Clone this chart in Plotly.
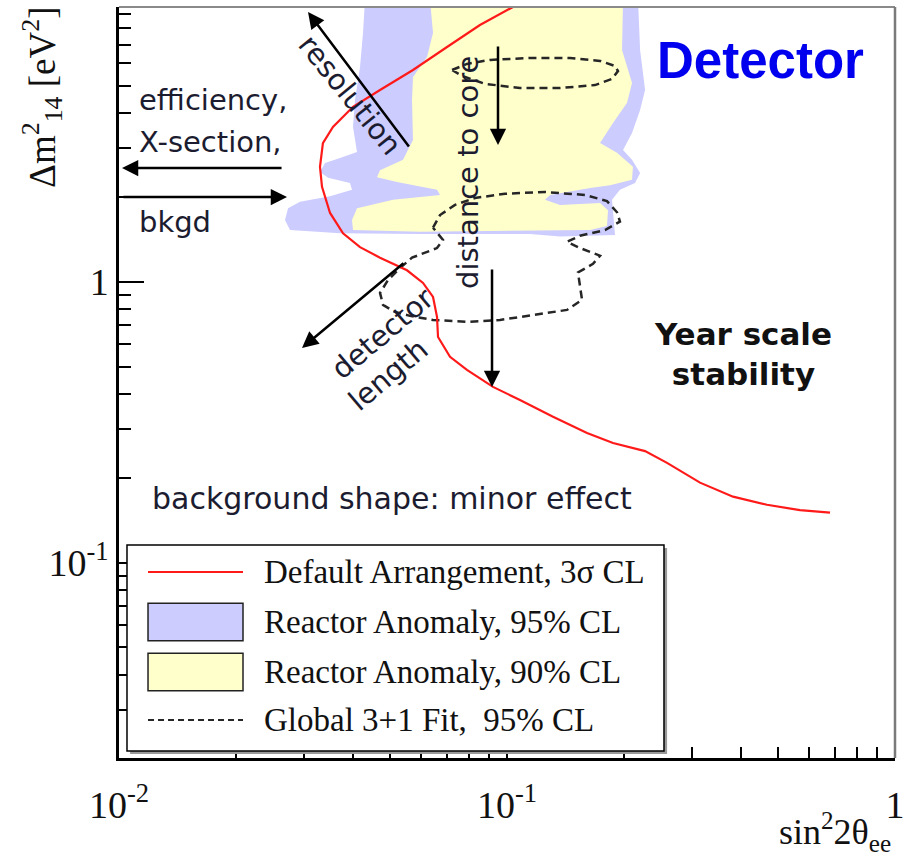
import plotly.graph_objects as go

# ---------------------------------------------------------------
# Sensitivity of the default detector arrangement (3 sigma CL)
# ---------------------------------------------------------------
sens_s2 = [0.1036, 0.08517, 0.07006, 0.05724, 0.04707, 0.04010, 0.03560,
           0.03354, 0.03296, 0.03336, 0.03499, 0.03779, 0.04180, 0.04707,
           0.05524, 0.06075, 0.06447, 0.06601, 0.06641, 0.07131, 0.07884,
           0.09203, 0.1080, 0.1314, 0.1608, 0.1876, 0.2269, 0.2585, 0.3144,
           0.3824, 0.4678, 0.5690, 0.6801]
sens_dm2 = [9.52, 8.21, 6.86, 5.68, 4.82, 4.20, 3.56, 3.12, 2.57, 2.18, 1.76,
            1.49, 1.33, 1.22, 1.10, 0.992, 0.884, 0.751, 0.637, 0.541, 0.486,
            0.423, 0.380, 0.331, 0.290, 0.267, 0.250, 0.227, 0.193, 0.172,
            0.161, 0.154, 0.151]

# Reactor anomaly allowed region, 95% CL
ra95_s2 = [0.04305, 0.04255, 0.04180, 0.04057, 0.04010, 0.04106, 0.03712,
           0.03396, 0.03296, 0.03458, 0.03939, 0.03986, 0.03499, 0.02928,
           0.02727, 0.02678, 0.02759, 0.03712, 0.05968, 0.1147, 0.1370,
           0.1898, 0.1865, 0.1955, 0.2138, 0.2203, 0.2100, 0.1991, 0.2100,
           0.2203, 0.2269, 0.2203, 0.2176]
ra95_dm2 = [10.1, 7.69, 5.82, 4.44, 3.56, 2.90, 2.76, 2.65, 2.46, 2.35, 2.25,
            2.13, 2.02, 1.93, 1.83, 1.66, 1.53, 1.49, 1.48, 1.48, 1.45, 1.47,
            1.96, 2.13, 2.25, 2.44, 2.72, 2.95, 3.39, 4.09, 4.82, 6.69, 10.1]

# Reactor anomaly allowed region, 90% CL
ra90_s2 = [0.06332, 0.06447, 0.06221, 0.05724, 0.05691, 0.05724, 0.05395,
           0.04707, 0.04623, 0.05206, 0.06601, 0.06720, 0.05084, 0.04106,
           0.03986, 0.04010, 0.05968, 0.1147, 0.1637, 0.1810, 0.1821, 0.1737,
           0.1370, 0.1253, 0.1291, 0.1637, 0.1843, 0.2100, 0.2112, 0.1921,
           0.1737, 0.1876, 0.2039, 0.2100, 0.1979, 0.1991]
ra90_dm2 = [10.1, 7.69, 6.32, 5.36, 4.44, 3.20, 2.72, 2.50, 2.36, 2.27, 2.13,
            2.04, 1.96, 1.83, 1.66, 1.53, 1.51, 1.52, 1.53, 1.58, 1.80, 1.91,
            1.88, 1.96, 2.04, 2.16, 2.21, 2.31, 2.57, 2.88, 3.12, 3.68, 4.34,
            5.11, 6.69, 10.1]

# Global 3+1 fit, 95% CL: upper island
g_up_s2 = [0.07216, 0.07884, 0.09041, 0.1147, 0.1454, 0.1737, 0.1898, 0.1932,
           0.1865, 0.1686, 0.1370, 0.1080, 0.08776, 0.07656, 0.07216]
g_up_dm2 = [5.68, 5.97, 6.17, 6.27, 6.27, 6.12, 5.87, 5.63, 5.28, 5.02, 4.90,
            4.90, 5.07, 5.41, 5.68]

# Global 3+1 fit, 95% CL: lower island
g_lo_s2 = [0.06447, 0.06720, 0.07345, 0.08267, 0.09881, 0.1253, 0.1589,
           0.1810, 0.1921, 0.1955, 0.1789, 0.1542, 0.1428, 0.1542, 0.1737,
           0.1666, 0.1524, 0.1542, 0.1561, 0.1428, 0.1167, 0.09594, 0.07884,
           0.06447, 0.05623, 0.05144, 0.04791, 0.04707, 0.04936, 0.05299,
           0.05691, 0.06601, 0.06842, 0.06447]
g_lo_dm2 = [1.56, 1.73, 1.88, 1.99, 2.06, 2.09, 2.04, 1.94, 1.77, 1.64, 1.53,
            1.46, 1.39, 1.32, 1.24, 1.16, 1.08, 0.952, 0.863, 0.795, 0.763,
            0.732, 0.721, 0.732, 0.757, 0.782, 0.828, 0.914, 1.016, 1.12,
            1.22, 1.32, 1.41, 1.56]

legend_labels = ["Default Arrangement, 3\u03c3 CL",
                 "Reactor Anomaly, 95% CL",
                 "Reactor Anomaly, 90% CL",
                 "Global 3+1 Fit,  95% CL"]

x_major = [0.01, 0.1, 1]
x_major_text = ["10<sup>-2</sup>", "10<sup>-1</sup>", "1"]
x_minor = [0.02, 0.03, 0.04, 0.05, 0.06, 0.07, 0.08, 0.09,
           0.2, 0.3, 0.4, 0.5, 0.6, 0.7, 0.8, 0.9]
y_major = [0.1, 1]
y_major_text = ["10<sup>-1</sup>", "1"]
y_minor = [0.03, 0.04, 0.05, 0.06, 0.07, 0.08, 0.09,
           0.2, 0.3, 0.4, 0.5, 0.6, 0.7, 0.8, 0.9,
           2, 3, 4, 5, 6, 7, 8, 9]

RED = "#ff1a1a"
BLUE = "#ccccff"
YELLOW = "#ffffcc"
DASH = "#262626"
SERIF = "Liberation Serif"
SANS = "DejaVu Sans"
INK = "#1c1c30"

fig = go.Figure()
fig.add_trace(go.Scatter(x=ra95_s2, y=ra95_dm2, mode="lines", fill="toself",
                         fillcolor=BLUE, line=dict(width=0, color=BLUE),
                         hoverinfo="skip", showlegend=False))
fig.add_trace(go.Scatter(x=ra90_s2, y=ra90_dm2, mode="lines", fill="toself",
                         fillcolor=YELLOW, line=dict(width=0, color=YELLOW),
                         hoverinfo="skip", showlegend=False))
for xs, ys in ((g_up_s2, g_up_dm2), (g_lo_s2, g_lo_dm2)):
    fig.add_trace(go.Scatter(x=xs, y=ys, mode="lines",
                             line=dict(color=DASH, width=2.5, dash="8px,5px"),
                             hoverinfo="skip", showlegend=False))
fig.add_trace(go.Scatter(x=sens_s2, y=sens_dm2, mode="lines",
                         line=dict(color=RED, width=2.2),
                         hoverinfo="skip", showlegend=False))

# plot frame (top and right sides)
shapes = [
    dict(type="line", xref="paper", yref="paper", x0=0, x1=1, y0=1, y1=1,
         line=dict(color="#8a8a8a", width=2)),
    dict(type="line", xref="paper", yref="paper", x0=1, x1=1, y0=0, y1=1,
         line=dict(color="#7a7a7a", width=2.5)),
]

# hand-drawn legend box
lx0, lx1, ly0, ly1 = 0.0103, 0.7023, 0.0093, 0.2836
shapes += [
    dict(type="rect", xref="paper", yref="paper", layer="above",
         x0=lx0 + 0.004, x1=lx1 + 0.004, y0=ly0 - 0.004, y1=ly1 - 0.004,
         fillcolor="#9a9a9a", line=dict(width=0)),
    dict(type="rect", xref="paper", yref="paper", layer="above",
         x0=lx0, x1=lx1, y0=ly0, y1=ly1,
         fillcolor="white", line=dict(color="black", width=1.5)),
]
row_y = [0.2477, 0.1811, 0.1145, 0.0506]
sx0, sx1, half_h = 0.0374, 0.1598, 0.0250
shapes.append(dict(type="line", xref="paper", yref="paper", layer="above",
                   x0=sx0, x1=sx1, y0=row_y[0], y1=row_y[0],
                   line=dict(color=RED, width=2)))
for fc, yy in ((BLUE, row_y[1]), (YELLOW, row_y[2])):
    shapes.append(dict(type="rect", xref="paper", yref="paper", layer="above",
                       x0=sx0, x1=sx1, y0=yy - half_h, y1=yy + half_h,
                       fillcolor=fc, line=dict(color="#222222", width=1.5)))
shapes.append(dict(type="line", xref="paper", yref="paper", layer="above",
                   x0=sx0, x1=sx1, y0=row_y[3], y1=row_y[3],
                   line=dict(color=DASH, width=1.8, dash="6px,4px")))

annotations = []
for lab, yy in zip(legend_labels, row_y):
    annotations.append(dict(xref="paper", yref="paper", x=0.1843, y=yy,
                            text=lab, showarrow=False, xanchor="left",
                            yanchor="middle",
                            font=dict(family=SERIF, size=33, color="#111111")))

# text notes
def note(x, y, text, size=28, angle=0, color=INK, bold=False, family=SANS,
         xanchor="center"):
    t = "<b>%s</b>" % text if bold else text
    annotations.append(dict(xref="paper", yref="paper", x=x, y=y, text=t,
                            showarrow=False, textangle=angle, xanchor=xanchor,
                            yanchor="middle",
                            font=dict(family=family, size=size, color=color)))

note(0.0232, 0.8762, "efficiency,", size=29, xanchor="left")
note(0.0232, 0.8202, "X-section,", size=29, xanchor="left")
note(0.0232, 0.7137, "bkgd", size=29, xanchor="left")
note(0.2977, 0.8828, "resolution", size=29, angle=51)
note(0.4497, 0.7803, "distance to core", size=29, angle=-90)
note(0.3402, 0.5659, "detector", size=29, angle=-40)
note(0.3466, 0.5100, "length", size=29, angle=-40)
note(0.3518, 0.3449, "background shape: minor effect", size=30)
note(0.8273, 0.9294, "Detector", size=51, color="#0000ee", bold=True,
     family="Liberation Sans")
note(0.8041, 0.5380, "Year scale<br>stability", size=31, color="#111111",
     bold=True)

# arrows: (head x, head y) in paper units, tail offset in pixels
arrows = [
    (0.0039, 0.7856, 161, 0),
    (0.2165, 0.7470, -165, 0),
    (0.2436, 0.9933, 102, 136),
    (0.4884, 0.8162, 0, -100),
    (0.4807, 0.4940, 0, -119),
    (0.2358, 0.5460, 103, -86),
]
for hx, hy, ax, ay in arrows:
    annotations.append(dict(xref="paper", yref="paper", x=hx, y=hy, ax=ax,
                            ay=ay, text="", showarrow=True, arrowhead=2,
                            arrowsize=1.3, arrowwidth=2.5, arrowcolor="black",
                            standoff=0, startstandoff=0))

# axis titles
annotations.append(dict(xref="paper", yref="paper", x=-0.0992, y=0.879,
                        xanchor="center", yanchor="middle",
                        text="\u0394m<sup>2</sup><sub>14</sub> [eV<sup>2</sup>]",
                        showarrow=False, textangle=-90,
                        font=dict(family=SERIF, size=37, color="#111111")))
annotations.append(dict(xref="paper", yref="paper", x=0.998, y=-0.098,
                        text="sin<sup>2</sup>2\u03b8<sub>ee</sub>",
                        showarrow=False, xanchor="right", yanchor="middle",
                        font=dict(family=SERIF, size=36, color="#111111")))

fig.update_layout(
    width=911, height=859,
    margin=dict(l=119, r=16, t=7, b=101),
    paper_bgcolor="white", plot_bgcolor="white",
    showlegend=False,
    shapes=shapes, annotations=annotations,
    xaxis=dict(type="log", range=[-2, 0], showgrid=False, zeroline=False,
               showline=True, linecolor="black", linewidth=2.5,
               ticks="inside", ticklen=25, tickwidth=1.5, tickcolor="black",
               tickmode="array", tickvals=x_major, ticktext=x_major_text,
               tickfont=dict(family=SERIF, size=38, color="#111111"),
               ticklabelstandoff=12,
               minor=dict(tickmode="array", tickvals=x_minor, ticks="inside",
                          ticklen=11, tickwidth=1.5, tickcolor="black",
                          showgrid=False)),
    yaxis=dict(type="log", range=[-1.6946, 0.9786], showgrid=False,
               zeroline=False, showline=True, linecolor="black",
               linewidth=2.5, ticks="inside", ticklen=25, tickwidth=1.5,
               tickcolor="black", tickmode="array", tickvals=y_major,
               ticktext=y_major_text,
               tickfont=dict(family=SERIF, size=38, color="#111111"),
               ticklabelstandoff=0,
               minor=dict(tickmode="array", tickvals=y_minor, ticks="inside",
                          ticklen=12, tickwidth=1.5, tickcolor="black",
                          showgrid=False)),
)

fig.write_html("out.html")
